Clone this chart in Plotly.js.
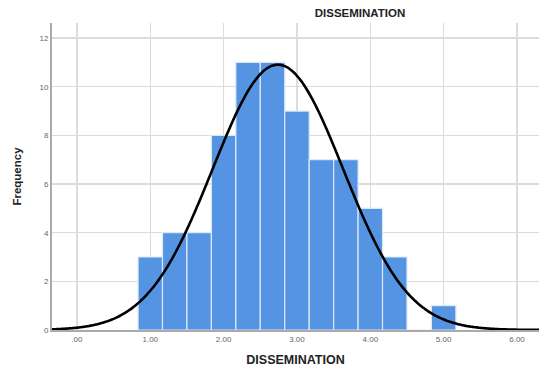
<!DOCTYPE html>
<html><head><meta charset="utf-8">
<script src="https://cdn.plot.ly/plotly-3.0.1.min.js"></script>
<style>html,body{margin:0;padding:0;background:#fff}#chart{width:539px;height:369px}</style>
</head><body><div id="chart"></div>
<script>
// Histogram bins (midpoints) and frequencies
const binMids = [1.0, 1.3333, 1.6667, 2.0, 2.3333, 2.6667, 3.0, 3.3333, 3.6667, 4.0, 4.3333, 4.6667, 5.0];
const counts  = [3, 4, 4, 8, 11, 11, 9, 7, 7, 5, 3, 0, 1];
const binWidth = 1/3;
const xTickVals = [0, 1, 2, 3, 4, 5, 6];
const xTickText = ['.00', '1.00', '2.00', '3.00', '4.00', '5.00', '6.00'];
const yTickVals = [0, 2, 4, 6, 8, 10, 12];

// fitted normal curve parameters (SPSS overlay), from the data
const N = counts.reduce((a, b) => a + b, 0);
const mean = binMids.reduce((s, m, i) => s + m * counts[i], 0) / N;
const sd = 0.89;
const curveX = [], curveY = [];
for (let i = 0; i <= 300; i++) {
  const x = -0.4 + i * (6.8 / 300);
  curveX.push(x);
  curveY.push(N * binWidth / (sd * Math.sqrt(2 * Math.PI)) * Math.exp(-0.5 * ((x - mean) / sd) ** 2));
}

const traces = [
  {type: 'bar', x: binMids, y: counts, width: binWidth,
   marker: {color: '#5594E3', line: {color: '#dce8f7', width: 1.2}}, hoverinfo: 'x+y'},
  {type: 'scatter', mode: 'lines', x: curveX, y: curveY,
   line: {color: '#000', width: 2.6, shape: 'spline'}, hoverinfo: 'skip'}
];

const layout = {
  width: 539, height: 369,
  margin: {l: 52, r: 0, t: 23, b: 39},
  paper_bgcolor: '#fff', plot_bgcolor: '#fff',
  showlegend: false,
  font: {family: 'Liberation Sans, Arial, sans-serif', color: '#555'},
  title: {text: '<b>DISSEMINATION</b>', font: {size: 11.5, color: '#222'},
          x: 0.668, xref: 'container', xanchor: 'center', y: 0.965, yref: 'container', yanchor: 'middle'},
  xaxis: {range: [-0.34, 6.30], tickvals: xTickVals, ticktext: xTickText,
          showgrid: true, gridcolor: '#dcdcdc', gridwidth: 1.5, zeroline: false,
          showline: true, linecolor: '#aaa', linewidth: 2, ticks: '',
          tickfont: {size: 8, color: '#666'},
          title: {text: '<b>DISSEMINATION</b>', font: {size: 12.5, color: '#222'}, standoff: 13}},
  yaxis: {range: [0, 12.62], tickvals: yTickVals, showgrid: true, gridcolor: '#dcdcdc',
          gridwidth: 1.5, zeroline: false, showline: true, linecolor: '#aaa', linewidth: 2,
          ticks: '', tickfont: {size: 8, color: '#666'},
          title: {text: '<b>Frequency</b>', font: {size: 11.5, color: '#222'}, standoff: 15}}
};
Plotly.newPlot('chart', traces, layout, {displayModeBar: false, staticPlot: true});
</script></body></html>
